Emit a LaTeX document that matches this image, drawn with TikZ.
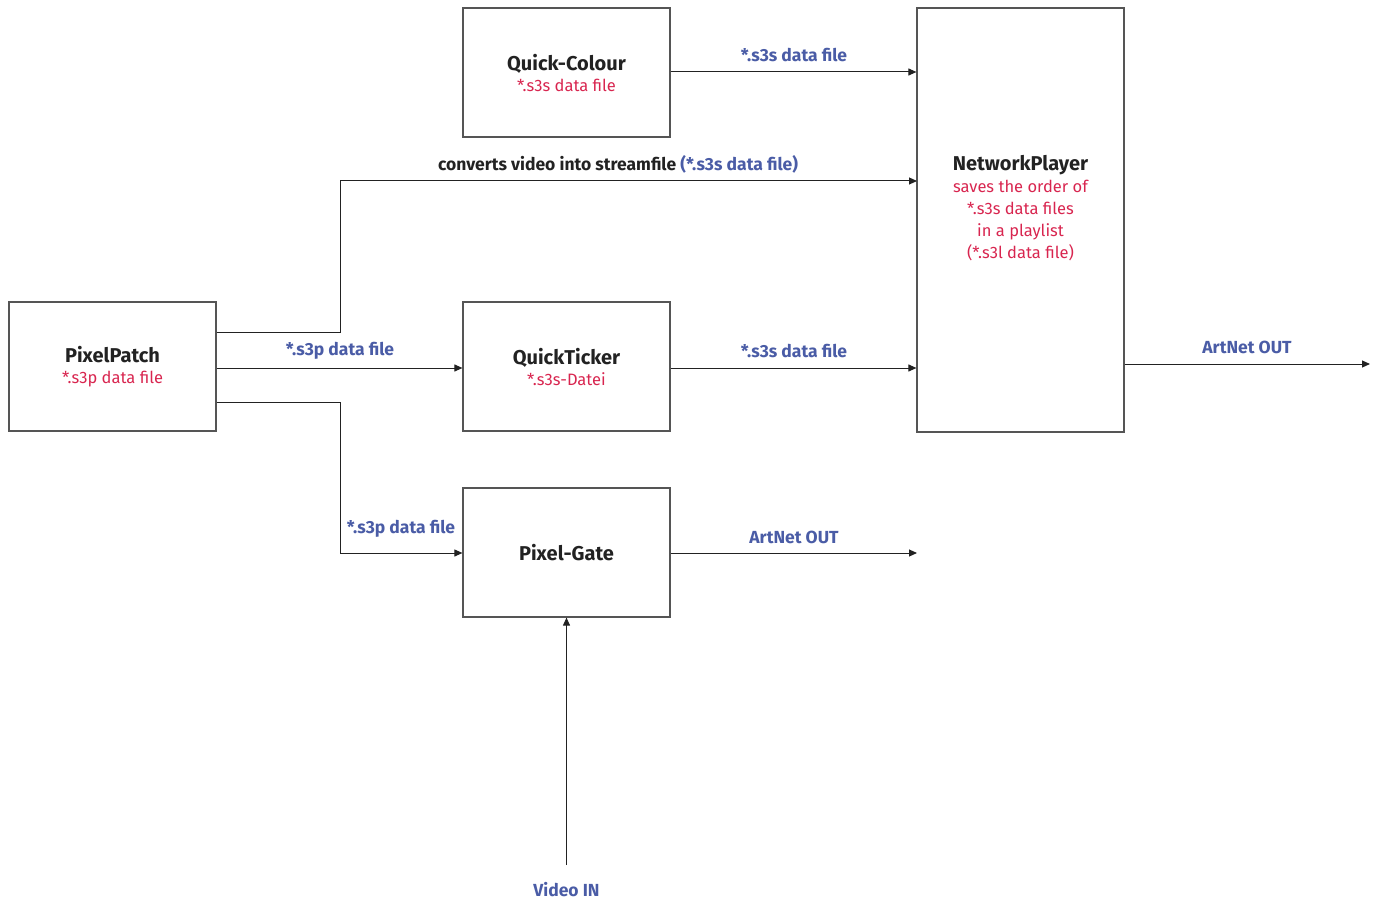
\documentclass[tikz,border=0pt]{standalone}
\usepackage{fontspec}
\setmainfont{Fira Sans}
\usetikzlibrary{arrows.meta,calc}
\definecolor{lblue}{HTML}{4A5CA6}
\definecolor{lred}{HTML}{D8254F}
\definecolor{ink}{HTML}{222222}
\definecolor{boxline}{HTML}{555555}
\newcommand{\subtxt}{\fontsize{16.5}{22}\selectfont\mdseries\color{lred}}
\tikzset{
  box/.style={draw=boxline,line width=1.2pt,minimum width=207pt,minimum height=129pt,inner sep=0pt,align=center,text=ink,font=\fontsize{20}{23}\selectfont\bfseries},
  conn/.style={draw=ink,line width=1pt,-{Triangle[length=8pt,width=7pt]}},
  lbl/.style={font=\fontsize{17.5}{19}\selectfont\bfseries,text=lblue,inner sep=0pt}
}
\begin{document}
\begin{tikzpicture}[x=1pt,y=-1pt]
\useasboundingbox (0,0) rectangle (1378,901);
\node[box] (qc) at (566.5,72.5) {Quick-Colour\\[-2pt]\subtxt *.s3s data file};
\node[box] (pp) at (112.5,366.5) {PixelPatch\\[-2pt]\subtxt *.s3p data file};
\node[box] (qt) at (566.5,366.5) {QuickTicker\\[-2pt]\subtxt *.s3s-Datei};
\node[box] (pg) at (566.5,552.5) {Pixel-Gate};
\node[box,minimum height=424pt] (np) at (1020.5,220) {};
\node[align=center,text=ink,font=\fontsize{20}{23}\selectfont\bfseries,inner sep=0pt] (nptext) at (1020.5,208.5)
  {NetworkPlayer\\[-1pt]\subtxt saves the order of\\[-1pt] \subtxt *.s3s data files\\[-1pt] \subtxt in a playlist\\[-1pt] \subtxt (*.s3l data file)};
\coordinate (b1) at (340,332);
\coordinate (b2) at (340,181);
\coordinate (b3) at (917,181);
\coordinate (c1) at (340,402);
\coordinate (c2) at (340,553);
\coordinate (artout) at (1370,364);
\coordinate (pgout) at (917,553);
\coordinate (vin) at (566.5,865);
\coordinate (y72) at (0,72);
\coordinate (y368) at (0,368);
% connectors
\draw[conn] (qc.east |- y72) -- (np.west |- y72);
\draw[conn] (pp.east |- b1) -- (b1) -- (b2) -- (b3);
\draw[conn] (pp.east |- y368) -- (qt.west |- y368);
\draw[conn] (pp.east |- c1) -- (c1) -- (c2) -- (pg.west |- c2);
\draw[conn] (qt.east |- y368) -- (np.west |- y368);
\draw[conn] (np.east |- artout) -- (artout);
\draw[conn] (pg.east |- pgout) -- (pgout);
\draw[conn] (vin) -- (pg.south);
% labels
\node[lbl] (l1) at (794,55) {*.s3s data file};
\node[font=\fontsize{17.5}{19}\selectfont\bfseries,text=ink,inner sep=0pt] (l2) at (618,164) {converts video into streamfile \textcolor{lblue}{(*.s3s data file)}};
\node[lbl] (l3) at (340,351) {*.s3p data file};
\node[lbl] (l4) at (794,351) {*.s3s data file};
\node[lbl] (l5) at (401,529) {*.s3p data file};
\node[lbl] (l6) at (794,537) {ArtNet OUT};
\node[lbl] (l7) at (1247,347) {ArtNet OUT};
\node[lbl] (l8) at (566.5,890) {Video IN};
\end{tikzpicture}
\end{document}
